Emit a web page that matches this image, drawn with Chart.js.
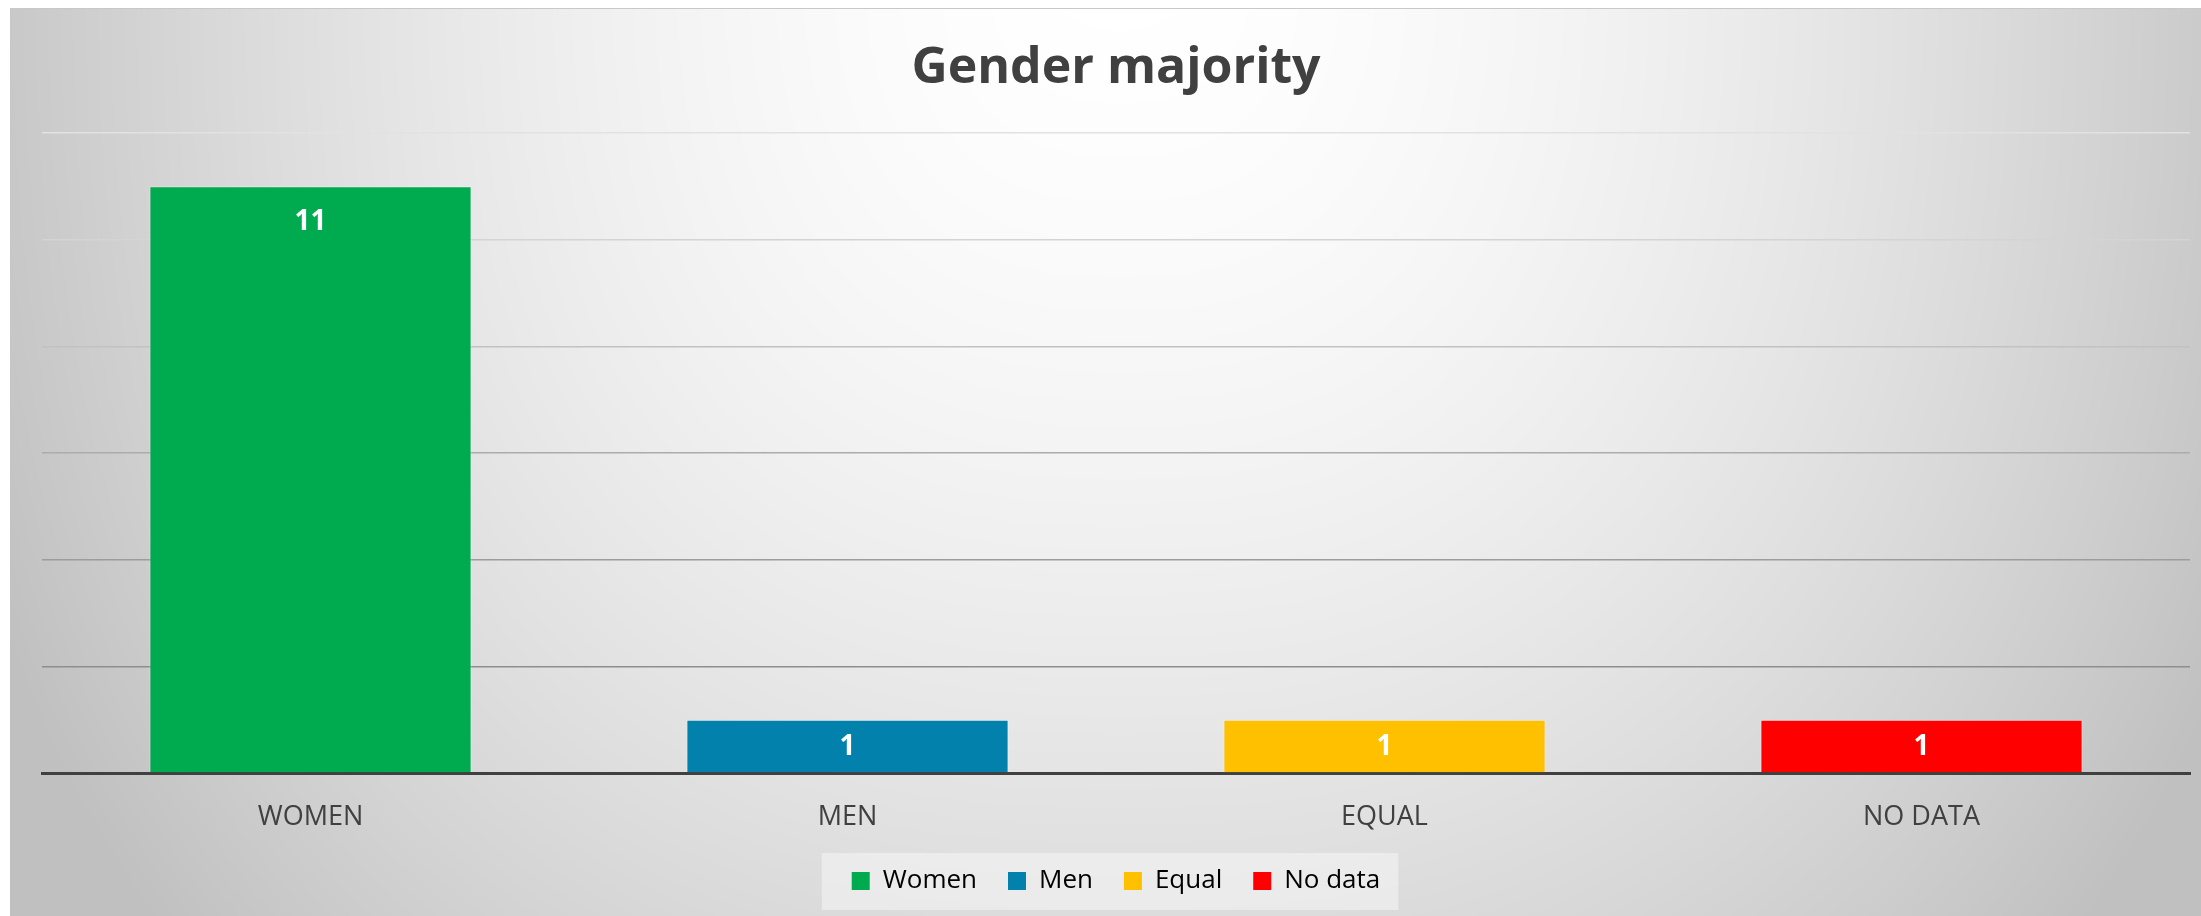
<!DOCTYPE html>
<html>
<head>
<meta charset="utf-8">
<script src="https://cdn.jsdelivr.net/npm/chart.js@4/dist/chart.umd.min.js"></script>
<style>
  html, body { margin: 0; padding: 0; background: #ffffff; }
  #wrap { position: absolute; left: 10px; top: 8px; width: 2191px; height: 908px; border-top: 1px solid #c8c8c8; box-sizing: border-box; }
  canvas { display: block; }
</style>
</head>
<body>
<div id="wrap"><canvas id="c"></canvas></div>
<script>
// ---- data ----
const categories = ['WOMEN', 'MEN', 'EQUAL', 'NO DATA'];
const legendNames = ['Women', 'Men', 'Equal', 'No data'];
const values = [11, 1, 1, 1];
const barColors = ['#00AB50', '#0181AB', '#FFC000', '#FF0000'];
const yTicks = [0, 2, 4, 6, 8, 10, 12];
const gridColors = ['#404040', '#8e8e8e', '#9c9c9c', '#acacac', '#c2c2c2', '#d4d4d4', '#e2e2e2'];

const FONT = '"Open Sans", "Liberation Sans", sans-serif';

// background: soft path-like gradient, light at top centre
let bgCache = null;
function buildBg(w, h) {
  const off = document.createElement('canvas');
  off.width = w; off.height = h;
  const c = off.getContext('2d');
  const img = c.createImageData(w, h);
  const cx = 1110, cy = -58, ax = 1150, ay = 1300, p = 2.5;
  for (let y = 0; y < h; y++) {
    const dyp = Math.pow(Math.abs(y - cy) / ay, p);
    for (let x = 0; x < w; x++) {
      const dxp = Math.pow(Math.abs(x - cx) / ax, p);
      let t = Math.pow(dxp + dyp, 1 / p);
      if (t > 1.05) t = 1.05;
      const v = Math.round(255 - 58 * Math.pow(t, 1.7));
      const k = (y * w + x) * 4;
      img.data[k] = v; img.data[k + 1] = v; img.data[k + 2] = v; img.data[k + 3] = 255;
    }
  }
  c.putImageData(img, 0, 0);
  return off;
}

const bgPlugin = {
  id: 'bg',
  beforeDraw(chart) {
    const ctx = chart.ctx;
    const w = chart.width, h = chart.height;
    if (!bgCache || bgCache.width !== w || bgCache.height !== h) bgCache = buildBg(w, h);
    ctx.save();
    ctx.drawImage(bgCache, 0, 0);
    const lg = chart.legend;
    if (lg && lg.legendHitBoxes && lg.legendHitBoxes.length) {
      const hb = lg.legendHitBoxes;
      const first = hb[0], last = hb[hb.length - 1];
      const cyL = first.top + first.height / 2;
      ctx.fillStyle = 'rgba(246,246,246,0.55)';
      ctx.fillRect(first.left - 30, cyL - 28, (last.left + last.width + 18) - (first.left - 30), 57);
    }
    ctx.restore();
  }
};

const labelPlugin = {
  id: 'valueLabels',
  afterDatasetsDraw(chart) {
    const ctx = chart.ctx;
    const meta = chart.getDatasetMeta(0);
    ctx.save();
    ctx.font = 'bold 28px ' + FONT;
    ctx.fillStyle = '#ffffff';
    ctx.textAlign = 'center';
    ctx.textBaseline = 'middle';
    meta.data.forEach((bar, i) => {
      const hgt = bar.base - bar.y;
      const off = Math.min(36, hgt / 2 + 1);
      ctx.fillText(String(values[i]), bar.x, bar.y + off);
    });
    ctx.restore();
  }
};

new Chart(document.getElementById('c'), {
  type: 'bar',
  data: {
    labels: categories,
    datasets: [{
      label: 'Gender majority',
      data: values,
      backgroundColor: barColors,
      borderColor: 'rgba(255,255,255,0.35)',
      borderWidth: 1,
      categoryPercentage: 1.0,
      barPercentage: 0.6
    }]
  },
  options: {
    responsive: true,
    maintainAspectRatio: false,
    animation: false,
    layout: { padding: { left: 32, right: 11, top: 0, bottom: 12 } },
    plugins: {
      title: {
        display: true,
        text: 'Gender majority',
        color: '#404040',
        font: { family: FONT, size: 50, weight: 'bold' },
        padding: { top: 30, bottom: 34 }
      },
      legend: {
        display: true,
        position: 'bottom',
        labels: {
          boxWidth: 18,
          boxHeight: 18,
          padding: 31,
          color: '#404040',
          font: { family: FONT, size: 26 },
          generateLabels: () => legendNames.map((t, i) => ({
            text: t, fillStyle: barColors[i], strokeStyle: barColors[i], lineWidth: 0, hidden: false, index: i
          }))
        },
        onClick: null
      },
      tooltip: { enabled: false }
    },
    scales: {
      x: {
        grid: { display: false, drawTicks: false },
        border: { display: true, color: '#404040', width: 3 },
        ticks: { color: '#404040', font: { family: FONT, size: 27 }, padding: 28 },
        afterFit: (scale) => { scale.height = 64; }
      },
      y: {
        min: 0, max: 12,
        afterBuildTicks: (scale) => { scale.ticks = yTicks.map(v => ({ value: v })); },
        grid: {
          drawTicks: false,
          lineWidth: 1.5,
          color: (ctx) => gridColors[yTicks.indexOf(ctx.tick ? ctx.tick.value : 0)] || '#999'
        },
        border: { display: false },
        ticks: { display: false }
      }
    }
  },
  plugins: [bgPlugin, labelPlugin]
});
</script>
</body>
</html>
